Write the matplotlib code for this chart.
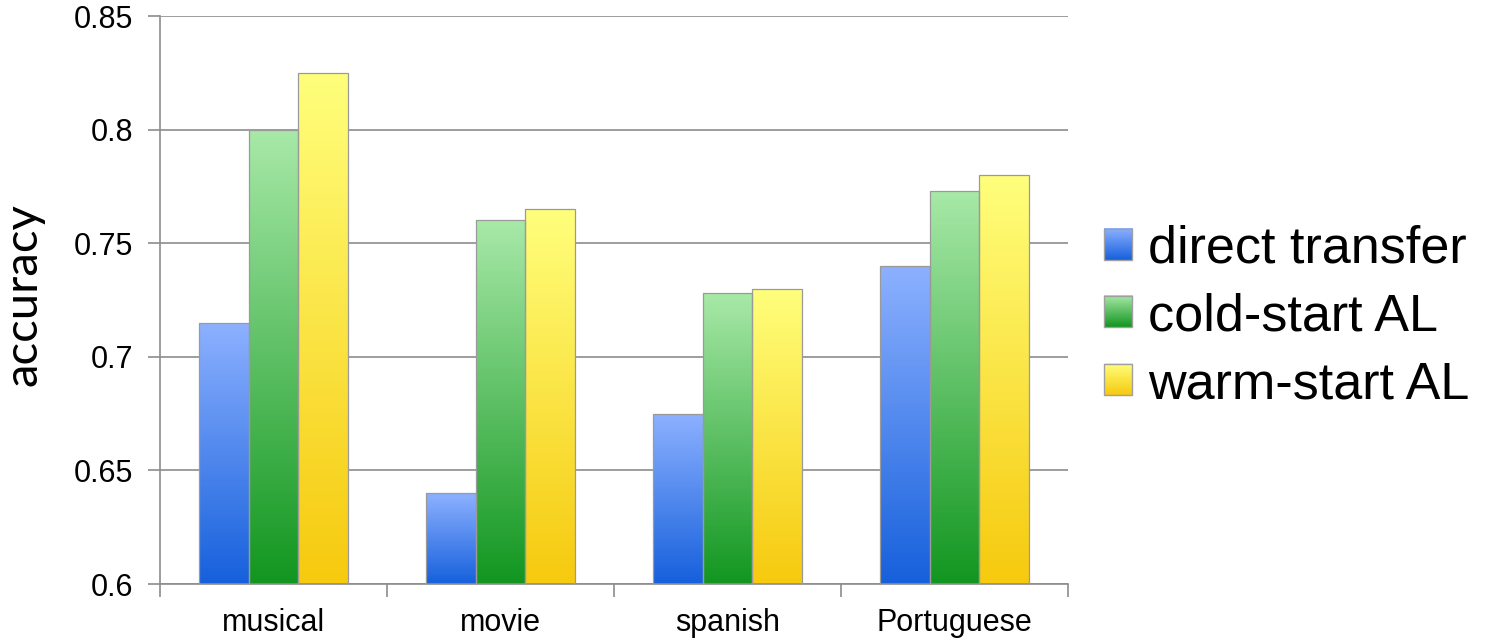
import numpy as np
import matplotlib
matplotlib.use("Agg")
import matplotlib.pyplot as plt
from matplotlib.colors import LinearSegmentedColormap
from matplotlib.legend_handler import HandlerBase
from matplotlib.image import BboxImage
from matplotlib.transforms import Bbox, TransformedBbox
from matplotlib.patches import Rectangle

categories = ["musical", "movie", "spanish", "Portuguese"]
series = ["direct transfer", "cold-start AL", "warm-start AL"]
direct_transfer = [0.715, 0.640, 0.675, 0.740]
cold_start = [0.800, 0.760, 0.728, 0.773]
warm_start = [0.825, 0.765, 0.730, 0.780]
yticks = [0.6, 0.65, 0.7, 0.75, 0.8, 0.85]
ytick_labels = ["0.6", "0.65", "0.7", "0.75", "0.8", "0.85"]

# (top colour, bottom colour) for each series gradient
gradients = [("#8db1ff", "#1660dc"),
             ("#a8e9a8", "#129620"),
             ("#ffff7c", "#f6ca0e")]

plt.rcParams["font.family"] = ["Liberation Sans", "DejaVu Sans"]

fig = plt.figure(figsize=(14.91, 6.4), dpi=100)
ax = fig.add_axes([0.1073, 0.0875, 0.609, 0.8875])

grid_col = "#8c8c8c"
cmaps = [LinearSegmentedColormap.from_list(f"g{i}", [bot, top])
         for i, (top, bot) in enumerate(gradients)]
ramp = np.linspace(0, 1, 256).reshape(-1, 1)

x = np.arange(len(categories))
width = 0.22
ymin, ymax = 0.6, 0.85
for i, vals in enumerate([direct_transfer, cold_start, warm_start]):
    bars = ax.bar(x + (i - 1) * width, np.array(vals) - ymin, width, bottom=ymin,
                  facecolor="none", edgecolor="#9a9a9a", linewidth=0.9, zorder=3)
    for b in bars:
        x0, y0 = b.get_x(), b.get_y()
        w, h = b.get_width(), b.get_height()
        im = ax.imshow(ramp, cmap=cmaps[i], origin="lower", aspect="auto",
                       extent=(x0, x0 + w, y0, y0 + h), zorder=2)
        im.set_clip_path(b)

ax.set_xlim(-0.5, len(categories) - 0.5)
ax.set_ylim(ymin, ymax)
ax.set_yticks(yticks)
ax.set_yticklabels(ytick_labels, fontsize=22)
ax.yaxis.grid(True, color=grid_col, linewidth=1.2, zorder=0)
ax.set_axisbelow(True)

# category boundaries carry the x tick marks, labels sit at the centres
ax.set_xticks(np.arange(len(categories) + 1) - 0.5)
ax.set_xticklabels([])
ax.set_xticks(x, minor=True)
ax.set_xticklabels(categories, minor=True, fontsize=22)
ax.tick_params(axis="x", which="minor", length=0, pad=17)
ax.tick_params(axis="x", which="major", length=9, color=grid_col, width=1.2)
ax.tick_params(axis="y", length=9, color=grid_col, width=1.2, pad=10)

for s in ["top", "right"]:
    ax.spines[s].set_visible(False)
for s in ["left", "bottom"]:
    ax.spines[s].set_color(grid_col)
    ax.spines[s].set_linewidth(1.2)

ax.set_ylabel("accuracy", fontsize=34, family=["Lato", "DejaVu Sans"])
ax.yaxis.set_label_coords(-0.127, 0.509)


class GradientHandler(HandlerBase):
    def __init__(self, cmap):
        super().__init__()
        self.cmap = cmap

    def create_artists(self, legend, orig_handle, xdescent, ydescent,
                       width, height, fontsize, trans):
        bb = TransformedBbox(Bbox.from_bounds(-xdescent, -ydescent, width, height), trans)
        img = BboxImage(bb, cmap=self.cmap, origin="lower")
        img.set_data(ramp)
        edge = Rectangle((-xdescent, -ydescent), width, height, facecolor="none",
                         edgecolor="#a0a0a0", linewidth=1.0, transform=trans)
        return [img, edge]


handles = [Rectangle((0, 0), 1, 1) for _ in series]
fig.legend(handles, series, loc="center left", bbox_to_anchor=(1104 / 1491, 0.505),
           frameon=False, fontsize=37.5, handlelength=0.54, handleheight=0.54,
           handletextpad=0.3, labelspacing=0.36, borderpad=0, borderaxespad=0,
           handler_map={h: GradientHandler(c) for h, c in zip(handles, cmaps)})

fig.savefig("out.png", dpi=100)
